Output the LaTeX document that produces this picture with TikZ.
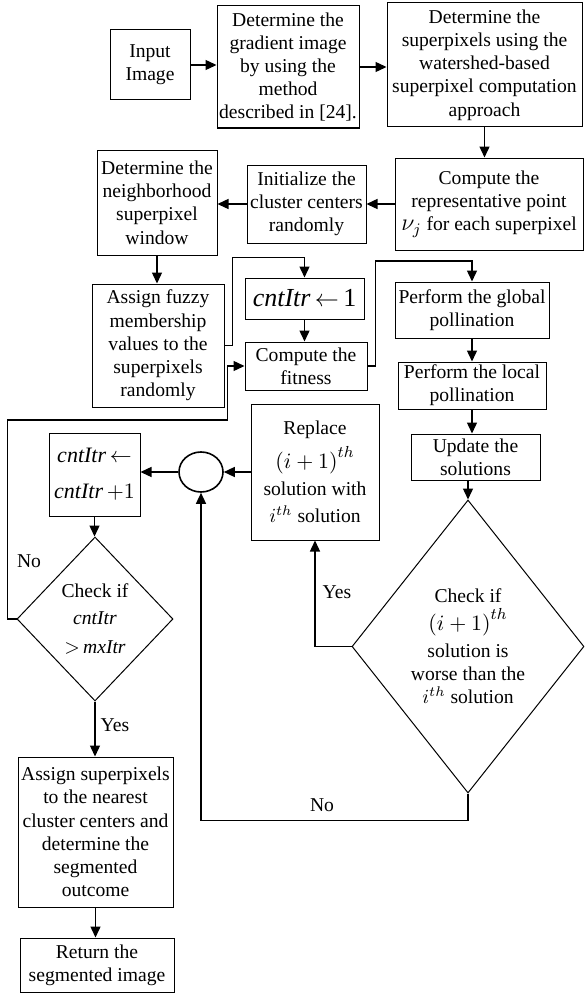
\documentclass[tikz,border=0pt]{standalone}
\usepackage{fontspec}
\setmainfont{Liberation Serif}
\usetikzlibrary{arrows.meta,shapes.geometric}
\begin{document}
\begin{tikzpicture}[x=0.5pt,y=-0.5pt,
  txt/.style={font=\fontsize{9.8}{11.6}\selectfont},
  box/.style={draw, line width=0.5pt, align=center, inner sep=0pt, txt},
  wh/.style 2 args={minimum width=#1*0.5pt, minimum height=#2*0.5pt},
  dia/.style={draw, shape=diamond, line width=0.5pt, inner sep=0pt, align=center, txt},
  arr/.style={line width=0.7pt, -{Triangle[length=5.5pt,width=5pt]}},
  lbl/.style={txt, inner sep=0pt}]
\useasboundingbox (0,0) rectangle (584,995);
% boxes
\node[box, wh={80}{70}] (inp) at (150,65) {Input\\Image};
\node[box, wh={142}{122}] (grad) at (288,67) {Determine the\\gradient image\\by using the\\method\\described in [24].};
\node[box, wh={195}{124}] (sup) at (484.5,65) {Determine the\\superpixels using the\\watershed-based\\superpixel computation\\approach};
\node[box, wh={188}{92}] (comp) at (489,204) {Compute the\\representative point\\{\fontsize{12}{11.5}\selectfont$\nu_j$}\ for each superpixel};
\node[box, wh={119}{78}] (init) at (306.5,204) {Initialize the\\cluster centers\\randomly};
\node[box, wh={120}{105}] (neigh) at (157,202.5) {Determine the\\neighborhood\\superpixel\\window};
\node[box, wh={132}{123}] (fuzzy) at (158,345.5) {Assign fuzzy\\membership\\values to the\\superpixels\\randomly};
\node[box, wh={119}{41}, font=\fontsize{13}{15}\selectfont] (c1) at (304.5,298.5) {\textit{cntItr}\,$\leftarrow$\,1};
\node[box, wh={122}{48}] (fit) at (306,366) {Compute the\\fitness};
\node[box, wh={154}{56}] (glob) at (472,310) {Perform the global\\pollination};
\node[box, wh={148}{47}] (loc) at (472,385.5) {Perform the local\\pollination};
\node[box, wh={129}{46}] (upd) at (475.5,457) {Update the\\solutions};
\node[dia, wh={232}{293}] (bd) at (468,646.5) {Check if\\[2pt] {\fontsize{11}{13}\selectfont$\bigl(i+1\bigr)^{th}$}\\[2pt] solution is\\ worse than the\\ $i^{th}$\ solution};
\node[box, wh={128}{136}] (repl) at (315,472) {Replace\\[3pt] {\fontsize{11}{13}\selectfont$\bigl(i+1\bigr)^{th}$}\\[2pt] solution with\\[2pt] $i^{th}$\ solution};
\node[draw, ellipse, line width=0.8pt, minimum width=22pt, minimum height=20pt, inner sep=0pt] (circ) at (201,472) {};
\node[box, wh={91}{83}, font=\fontsize{11}{18}\selectfont] (cinc) at (94.5,474.5) {\textit{cntItr}\,$\leftarrow$\\\textit{cntItr}\,$+1$};
\node[dia, wh={156}{164}] (smd) at (95,619) {Check if\\[2pt] \textit{cntItr}\\[3pt] $>$\,\textit{mxItr}};
\node[box, wh={155}{150}] (asg) at (95.5,832) {Assign superpixels\\to the nearest\\cluster centers and\\determine the\\segmented\\outcome};
\node[box, wh={154}{54}] (ret) at (97,965) {Return the\\segmented image};
% labels
\node[lbl] (no1) at (29,561) {No};
\node[lbl] (yes1) at (337,592) {Yes};
\node[lbl] (yes2) at (115,725) {Yes};
\node[lbl] (no2) at (322,805) {No};
% connectors
\draw[arr] (inp.east) -- (inp.east -| grad.west);
\draw[arr] (grad.east) -- (grad.east -| sup.west);
\draw[arr] (sup.south) -- (sup.south |- comp.north);
\draw[arr] (comp.west) -- (comp.west -| init.east);
\draw[arr] (init.west) -- (init.west -| neigh.east);
\draw[arr] (neigh.south) -- (neigh.south |- fuzzy.north);
\draw[arr] (fuzzy.east) -- ++(8,0) -- ++(0,-88) -| (c1.north);
\draw[arr] (c1.south) -- (c1.south |- fit.north);
\draw[arr] (fit.east) -- ++(8,0) -- ++(0,-105) -| (glob.north);
\draw[arr] (glob.south) -- (glob.south |- loc.north);
\draw[arr] (loc.south) -- (loc.south |- upd.north);
\draw[arr] (bd.north |- upd.south) -- (bd.north);
\draw[arr] (bd.west) -| (repl.south);
\draw[arr] (repl.west) -- (repl.west -| circ.east);
\draw[arr] (circ.west) -- (circ.west -| cinc.east);
\draw[arr] (cinc.south) -- (cinc.south |- smd.north);
\draw[arr] (bd.south) -- ++(0,27) -| (circ.south);
\draw[arr] (smd.south) -- (smd.south |- asg.north);
\draw[arr] (asg.south) -- (asg.south |- ret.north);
\draw[arr] (smd.west) -- ++(-9,0) -- ++(0,-199) -- ++(220,0) |- (fit.west);
\end{tikzpicture}
\end{document}
